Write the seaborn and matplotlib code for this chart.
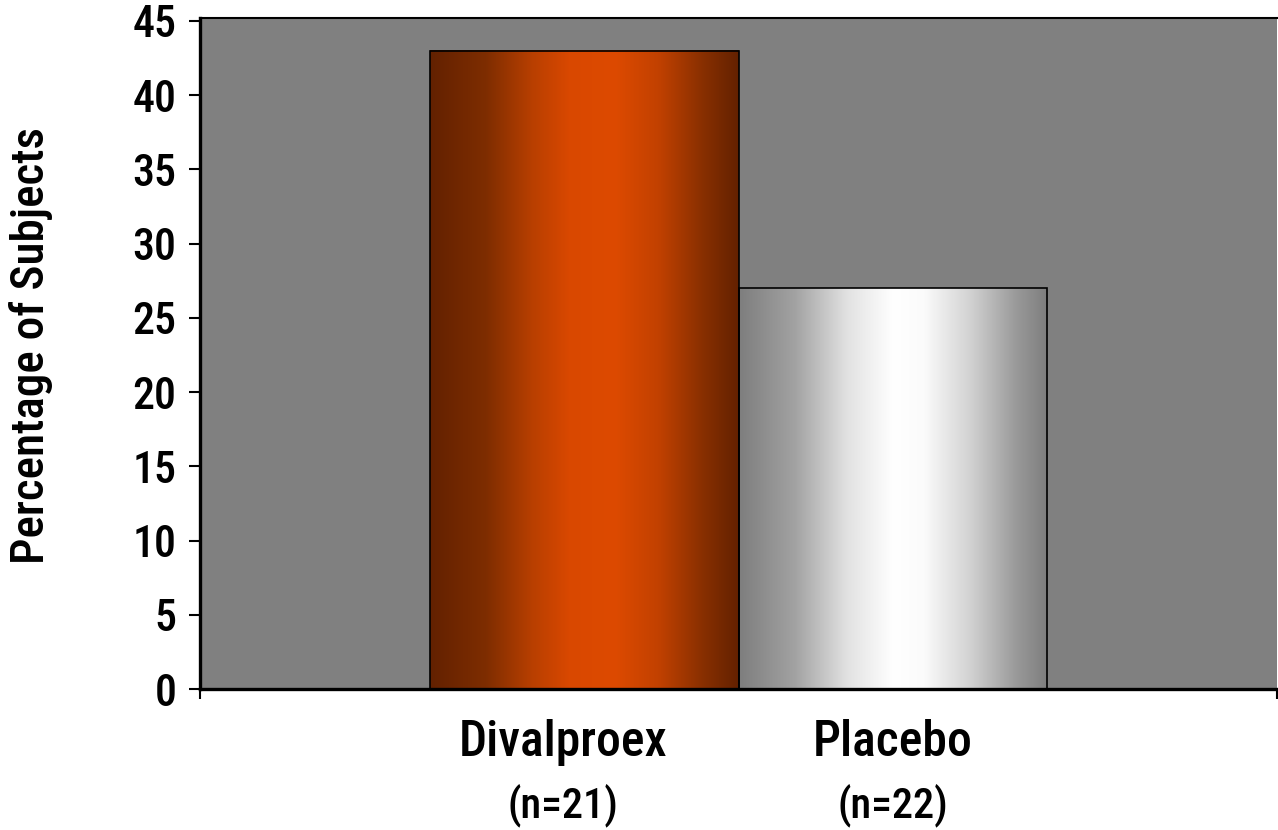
import os
import numpy as np
import pandas as pd
import matplotlib
matplotlib.use("Agg")
import matplotlib.pyplot as plt
import seaborn as sns
from matplotlib import font_manager as fm
from matplotlib.colors import LinearSegmentedColormap

# ---- data ----
categories = ["Divalproex", "Placebo"]
values = [43, 27]
n_labels = ["(n=21)", "(n=22)"]
yticks = [0, 5, 10, 15, 20, 25, 30, 35, 40, 45]
ylabel = "Percentage of Subjects"

sns.set_theme(style="white")
plt.rcParams["font.family"] = ["DejaVu Sans"]


def find_font(patterns):
    files = [f.fname for f in fm.fontManager.ttflist]
    for pat in patterns:
        for fn in files:
            if os.path.basename(fn).lower().startswith(pat.lower()):
                return fn
    return None


font_path = find_font([
    "LiberationSansNarrow-Bold.", "RobotoCondensed-Medium.",
    "Roboto_Condensed-Medium", "RobotoCondensed-SemiBold.",
    "RobotoCondensed-Bold.", "Roboto_Condensed-Bold",
    "DejaVuSansCondensed-Bold.", "OpenSansCondensed-Bold",
    "DejaVuSansCondensed.",
])
if font_path:
    def fp(size):
        return fm.FontProperties(fname=font_path, size=size)
else:
    def fp(size):
        return fm.FontProperties(family="DejaVu Sans", weight="bold", size=size)

df = pd.DataFrame({"group": categories, "pct": values})

fig = plt.figure(figsize=(12.78, 8.30), dpi=100)
ax = fig.add_axes([200 / 1278, 1 - 689 / 830, 1077 / 1278, (689 - 18) / 830])

sns.barplot(data=df, x="group", y="pct", width=1.0, ax=ax,
            color="#808080", saturation=1)

grad_maps = [
    LinearSegmentedColormap.from_list("orange", [
        (0.0, "#632100"), (0.18, "#7E2D00"), (0.33, "#B83F00"),
        (0.45, "#D94800"), (0.6, "#DD4A00"), (0.74, "#C24100"),
        (0.88, "#8A3000"), (1.0, "#632100")]),
    LinearSegmentedColormap.from_list("silver", [
        (0.0, "#7E7E7E"), (0.18, "#A2A2A2"), (0.35, "#E2E2E2"),
        (0.5, "#FFFFFF"), (0.6, "#FBFBFB"), (0.75, "#D2D2D2"),
        (0.9, "#999999"), (1.0, "#7E7E7E")]),
]

grad = np.linspace(0, 1, 256)[None, :]
for patch, cmap in zip(ax.patches, grad_maps):
    x0, w, h = patch.get_x(), patch.get_width(), patch.get_height()
    ax.imshow(grad, cmap=cmap, extent=(x0, x0 + w, 0, h), aspect="auto",
              interpolation="bilinear", zorder=1.5)
    patch.set_facecolor("none")
    patch.set_edgecolor("black")
    patch.set_linewidth(1.2)
    patch.set_zorder(2)

ax.set_facecolor("#808080")
ax.set_xlim(-1.247, 2.247)
ax.set_ylim(0, 45.2)
ax.set_yticks(yticks)
ax.set_yticklabels([str(t) for t in yticks])
ax.set_xticks([-1.247, 2.247])
ax.set_xticklabels(["", ""])
ax.set_xlabel("")
ax.set_ylabel("")

for side in ["left", "bottom"]:
    ax.spines[side].set_visible(True)
    ax.spines[side].set_color("black")
    ax.spines[side].set_linewidth(2.4)
ax.spines["top"].set_color("black")
ax.spines["top"].set_linewidth(1.5)
ax.spines["right"].set_visible(False)

ax.tick_params(axis="y", left=True, direction="out", length=8, width=1.5,
               color="black", pad=9, labelcolor="black")
ax.tick_params(axis="x", bottom=True, direction="out", length=7, width=1.5,
               color="black")

x_offsets = [-0.07, 0.0]
cat_texts, n_texts = [], []
for i, (cat, n) in enumerate(zip(categories, n_labels)):
    cat_texts.append(ax.text(i + x_offsets[i], -4.51, cat, ha="center",
                             va="baseline", fontproperties=fp(32),
                             color="black", clip_on=False))
    n_texts.append(ax.text(i + x_offsets[i], -8.62, n, ha="center",
                           va="baseline", fontproperties=fp(32),
                           color="black", clip_on=False))

ylab = fig.text(31 / 1278, 1 - 346 / 830, ylabel, rotation=90, ha="center",
                va="center", fontproperties=fp(34), color="black")

for lab in ax.get_yticklabels():
    lab.set_fontproperties(fp(31))

# fit font sizes to the measured widths of the reference text
fig.canvas.draw()
r = fig.canvas.get_renderer()
s_cat = 1.06 * 32 * 197 / cat_texts[0].get_window_extent(r).width
s_n = 1.1 * 32 * 101 / n_texts[0].get_window_extent(r).width
s_y = 1.01 * 34 * 432 / ylab.get_window_extent(r).height
s_t = 1.1 * 31 * 40 / ax.get_yticklabels()[-1].get_window_extent(r).width

for t in cat_texts:
    t.set_fontproperties(fp(s_cat))
for t in n_texts:
    t.set_fontproperties(fp(s_n))
ylab.set_fontproperties(fp(s_y))
for lab in ax.get_yticklabels():
    lab.set_fontproperties(fp(s_t))

fig.savefig("out.png", dpi=100, facecolor="white")
